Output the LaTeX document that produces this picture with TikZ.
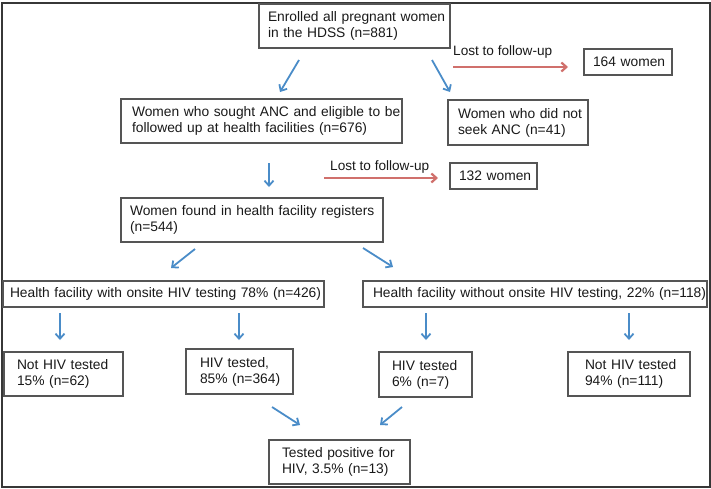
\documentclass[tikz,border=0pt]{standalone}
\usepackage{fontspec}
\setmainfont{Liberation Sans}
\usetikzlibrary{arrows.meta}
\definecolor{arrblue}{RGB}{74,140,200}
\definecolor{arrred}{RGB}{208,112,108}
\definecolor{boxgray}{RGB}{85,85,85}
\definecolor{framegray}{RGB}{55,55,55}
\definecolor{txt}{RGB}{25,25,25}
\begin{document}
\begin{tikzpicture}[x=1pt,y=-1pt,
  box/.style={draw=boxgray, line width=1.2pt, rectangle, align=left, inner sep=0pt,
    text=txt, font=\fontsize{13.8}{16}\selectfont},
  lbl/.style={inner sep=0pt, anchor=west, text=txt, font=\fontsize{13.6}{15}\selectfont},
  barrow/.style={draw=arrblue, line width=1.8pt, -{Straight Barb[length=5pt,width=9pt]}},
  rarrow/.style={draw=arrred, line width=2.2pt, -{Straight Barb[length=5pt,width=9pt]}}]
\useasboundingbox (0,0) rectangle (711,488);
\draw[framegray, line width=2pt] (1.5,2.5) rectangle (709.5,486.5);

\node[box, minimum width=191pt, minimum height=44pt, text width=173pt] (enr) at (354.5,26)
  {\mbox{Enrolled all pregnant women}\\\mbox{in the HDSS (n=881)}};
\node[box, minimum width=88pt, minimum height=26pt, text width=70pt] (w164) at (628,62)
  {\mbox{164 women}};
\node[box, minimum width=281pt, minimum height=44pt, text width=259pt] (anc) at (261.5,121)
  {\mbox{Women who sought ANC and eligible to be}\\\mbox{followed up at health facilities (n=676)}};
\node[box, minimum width=140pt, minimum height=45pt, text width=120pt] (noanc) at (518,122.5)
  {\mbox{Women who did not}\\\mbox{seek ANC (n=41)}};
\node[box, minimum width=87pt, minimum height=26pt, text width=69pt] (w132) at (493.5,176)
  {\mbox{132 women}};
\node[box, minimum width=262pt, minimum height=44pt, text width=244pt] (reg) at (252,220)
  {\mbox{Women found in health facility registers}\\\mbox{(n=544)}};
\node[box, minimum width=321pt, minimum height=26pt, text width=307pt] (with) at (163.5,294)
  {\mbox{Health facility with onsite HIV testing 78\% (n=426)}};
\node[box, minimum width=344pt, minimum height=26pt, text width=324pt] (without) at (535,294)
  {\mbox{Health facility without onsite HIV testing, 22\% (n=118)}};
\node[box, minimum width=119pt, minimum height=44pt, text width=93pt] (nt1) at (63.5,374)
  {\mbox{Not HIV tested}\\\mbox{15\% (n=62)}};
\node[box, minimum width=107pt, minimum height=45pt, text width=79pt] (t85) at (239.5,371.5)
  {\mbox{HIV tested,}\\\mbox{85\% (n=364)}};
\node[box, minimum width=93pt, minimum height=45pt, text width=67pt] (t6) at (425.5,374.5)
  {\mbox{HIV tested}\\\mbox{6\% (n=7)}};
\node[box, minimum width=122pt, minimum height=44pt, text width=88pt] (nt94) at (629,374)
  {\mbox{Not HIV tested}\\\mbox{94\% (n=111)}};
\node[box, minimum width=141pt, minimum height=44pt, text width=115pt] (pos) at (339.5,462)
  {\mbox{Tested positive for}\\\mbox{HIV, 3.5\% (n=13)}};

\node[lbl] (lost1) at (453,52) {Lost to follow-up};
\node[lbl] (lost2) at (330,167) {Lost to follow-up};

\coordinate (a1s) at (299,60);  \coordinate (a1e) at (280,92);
\coordinate (a2s) at (432,60);  \coordinate (a2e) at (450,92);
\coordinate (r1s) at (453,67);  \coordinate (r1e) at (568,67);
\coordinate (d1s) at (269,163); \coordinate (d1e) at (269,187);
\coordinate (r2s) at (324,178); \coordinate (r2e) at (438,178);
\coordinate (a3s) at (195,249); \coordinate (a3e) at (171,268);
\coordinate (a4s) at (363,248); \coordinate (a4e) at (393,267);
\coordinate (d2s) at (60,313);  \coordinate (d2e) at (60,340);
\coordinate (d3s) at (239,313); \coordinate (d3e) at (239,340);
\coordinate (d4s) at (426,313); \coordinate (d4e) at (426,340);
\coordinate (d5s) at (629,313); \coordinate (d5e) at (629,340);
\coordinate (a5s) at (272,407); \coordinate (a5e) at (300,425);
\coordinate (a6s) at (402,407); \coordinate (a6e) at (380,425);

\draw[barrow] (a1s) -- (a1e);
\draw[barrow] (a2s) -- (a2e);
\draw[rarrow] (r1s) -- (r1e);
\draw[barrow] (d1s) -- (d1e);
\draw[rarrow] (r2s) -- (r2e);
\draw[barrow] (a3s) -- (a3e);
\draw[barrow] (a4s) -- (a4e);
\draw[barrow] (d2s) -- (d2e);
\draw[barrow] (d3s) -- (d3e);
\draw[barrow] (d4s) -- (d4e);
\draw[barrow] (d5s) -- (d5e);
\draw[barrow] (a5s) -- (a5e);
\draw[barrow] (a6s) -- (a6e);
\end{tikzpicture}
\end{document}
